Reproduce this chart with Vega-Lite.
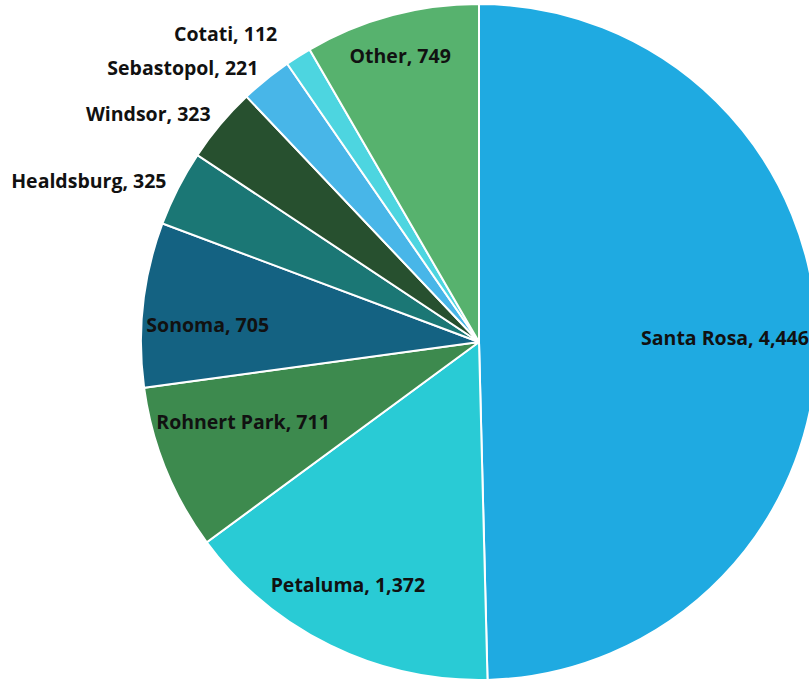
{
  "$schema": "https://vega.github.io/schema/vega-lite/v6.json",
  "width": 809,
  "height": 682,
  "autosize": {"type": "none"},
  "padding": 0,
  "background": "white",
  "config": {
    "text": {"font": "Open Sans", "fontWeight": "bold", "fontSize": 19.5, "color": "#111111", "baseline": "middle"}
  },
  "data": {
    "values": [
      {"city": "Santa Rosa", "count": 4446},
      {"city": "Petaluma", "count": 1372},
      {"city": "Rohnert Park", "count": 711},
      {"city": "Sonoma", "count": 705},
      {"city": "Healdsburg", "count": 325},
      {"city": "Windsor", "count": 323},
      {"city": "Sebastopol", "count": 221},
      {"city": "Cotati", "count": 112},
      {"city": "Other", "count": 749}
    ]
  },
  "transform": [
    {"calculate": "datum.city + ', ' + format(datum.count, ',')", "as": "label"},
    {"calculate": "indexof(['Santa Rosa','Petaluma','Rohnert Park','Sonoma','Healdsburg','Windsor','Sebastopol','Cotati','Other'], datum.city)", "as": "order"},
    {"stack": "count", "groupby": [], "sort": [{"field": "order", "order": "ascending"}], "as": ["start", "end"]},
    {"calculate": "(datum.start + datum.end) / 2", "as": "mid"}
  ],
  "layer": [
    {
      "mark": {"type": "arc", "radius": 338, "stroke": "white", "strokeWidth": 2, "xOffset": 74.5, "yOffset": 1},
      "encoding": {
        "theta": {"field": "start", "type": "quantitative", "stack": null, "scale": {"domain": [0, 8964]}},
        "theta2": {"field": "end"},
        "color": {
          "field": "city",
          "type": "nominal",
          "scale": {
            "domain": ["Santa Rosa", "Petaluma", "Rohnert Park", "Sonoma", "Healdsburg", "Windsor", "Sebastopol", "Cotati", "Other"],
            "range": ["#1FAAE1", "#29CBD5", "#3D8A4E", "#146282", "#1B7775", "#27502F", "#48B6E8", "#4DD5E0", "#57B26E"]
          },
          "legend": null
        }
      }
    },
    {
      "mark": {"type": "text", "align": "center", "radius": 246, "xOffset": 74.5, "yOffset": 1},
      "transform": [{"filter": "datum.city == 'Santa Rosa'"}],
      "encoding": {
        "theta": {"field": "mid", "type": "quantitative", "stack": null},
        "text": {"field": "label"}
      }
    },
    {
      "mark": {"type": "text", "align": "center", "radius": 246, "xOffset": 66.5, "yOffset": -10},
      "transform": [{"filter": "datum.city == 'Rohnert Park'"}],
      "encoding": {
        "theta": {"field": "mid", "type": "quantitative", "stack": null},
        "text": {"field": "label"}
      }
    },
    {
      "mark": {"type": "text", "align": "center", "radius": 273, "xOffset": 74.5, "yOffset": 15},
      "transform": [{"filter": "datum.city == 'Sonoma'"}],
      "encoding": {
        "theta": {"field": "mid", "type": "quantitative", "stack": null},
        "text": {"field": "label"}
      }
    },
    {
      "mark": {"type": "text", "align": "center", "radius": 273, "xOffset": 63.5, "yOffset": 0},
      "transform": [{"filter": "datum.city == 'Petaluma'"}],
      "encoding": {
        "theta": {"field": "mid", "type": "quantitative", "stack": null},
        "text": {"field": "label"}
      }
    },
    {
      "mark": {"type": "text", "align": "center", "radius": 296, "xOffset": 72.5, "yOffset": 2},
      "transform": [{"filter": "datum.city == 'Other'"}],
      "encoding": {
        "theta": {"field": "mid", "type": "quantitative", "stack": null},
        "text": {"field": "label"}
      }
    },
    {
      "mark": {"type": "text", "align": "right", "radius": 352, "xOffset": 75.5, "yOffset": 1},
      "transform": [{"filter": "indexof(['Healdsburg','Windsor','Sebastopol'], datum.city) >= 0"}],
      "encoding": {
        "theta": {"field": "mid", "type": "quantitative", "stack": null},
        "text": {"field": "label"}
      }
    },
    {
      "mark": {"type": "text", "align": "right", "radius": 368, "xOffset": 69.5, "yOffset": 5},
      "transform": [{"filter": "datum.city == 'Cotati'"}],
      "encoding": {
        "theta": {"field": "mid", "type": "quantitative", "stack": null},
        "text": {"field": "label"}
      }
    }
  ]
}
